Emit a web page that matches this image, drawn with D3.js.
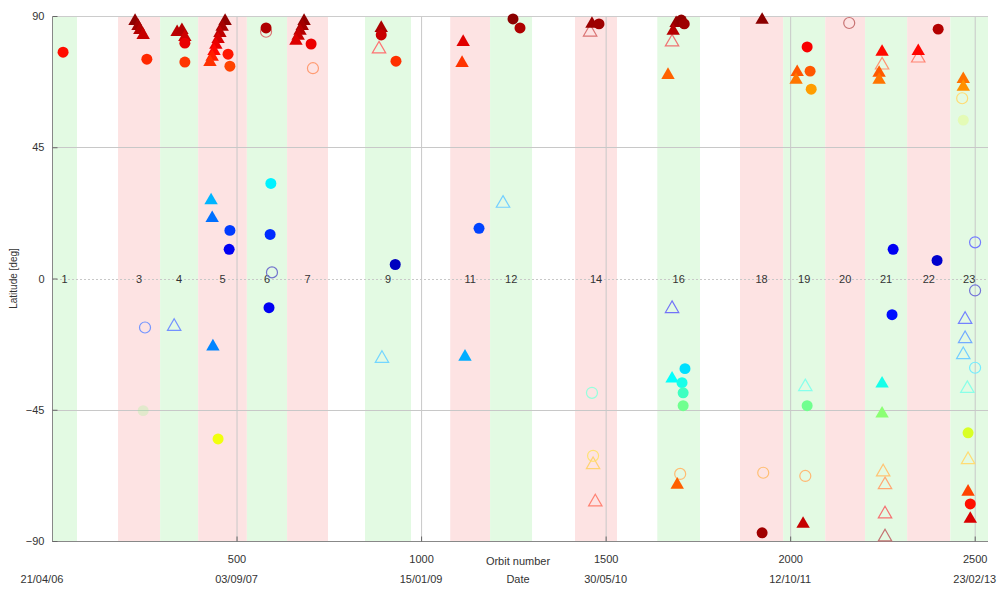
<!DOCTYPE html>
<html>
<head>
<meta charset="utf-8">
<script src="https://cdn.jsdelivr.net/npm/d3@7"></script>
<style>
  html, body { margin: 0; padding: 0; background: #fff; }
  svg { display: block; font-family: "Liberation Sans", Arial, sans-serif; }
</style>
</head>
<body>
<svg id="chart" width="1003" height="592"></svg>
<script>
// Observation seasons: [season number, first orbit, last orbit, kind]
// kind: "g" = green season, "r" = red season, "w" = no season shading
const seasons = [
  [1, 0, 68, "g"], [2, 68, 179, "w"], [3, 179, 293, "r"], [4, 293, 396, "g"],
  [5, 396, 528, "r"], [6, 528, 637, "g"], [7, 637, 748, "r"], [8, 748, 848, "w"],
  [9, 848, 973, "g"], [10, 973, 1079, "w"], [11, 1079, 1187, "r"], [12, 1187, 1301, "g"],
  [13, 1301, 1417, "w"], [14, 1417, 1531, "r"], [15, 1531, 1640, "w"], [16, 1640, 1756, "g"],
  [17, 1756, 1864, "w"], [18, 1864, 1981, "r"], [19, 1981, 2095, "g"], [20, 2095, 2203, "r"],
  [21, 2203, 2317, "g"], [22, 2317, 2434, "r"], [23, 2434, 2536, "g"]
];

// Axis ticks
const orbitTicks = [500, 1000, 1500, 2000, 2500];
const dateTicks = [[0, "21/04/06"], [500, "03/09/07"], [1000, "15/01/09"],
                   [1500, "30/05/10"], [2000, "12/10/11"], [2500, "23/02/13"]];
const latTicks = [90, 45, 0, -45, -90];

// Detections: [orbit number, latitude in degrees]
const filledCircles = [
  [30, 77.6], [257, 75.2], [360, 80.7], [360, 74.2], [477, 76.9], [482, 72.8],
  [580, 85.9], [593, 32.6], [591, 15.1], [588, -10], [482, 16.5], [480, 10],
  [450, -55], [702, 80.4], [892, 83.5], [932, 74.5], [930, 4.8], [1157, 17.2],
  [1249, 89], [1268, 85.9], [1482, 87.3], [1705, 88.6], [1713, 87.3], [1715, -30.9],
  [1707, -35.7], [1710, -39.2], [1710, -43.6], [1924, -87.2], [2046, 79.4], [2054, 71.1],
  [2057, 64.9], [2046, -43.6], [2279, 10], [2276, -12.4], [2401, 85.5], [2398, 6.2],
  [2482, -52.9], [2488, -77.3]
];
const filledTriangles = [
  [225, 88.6], [233, 86.9], [238, 85.5], [247, 83.8],
  [339, 84.8], [352, 85.5], [360, 83.1],
  [469, 88.6], [461, 86.6], [455, 84.5], [450, 82.4], [444, 80.4], [439, 78.3], [434, 76.3], [428, 74.5],
  [431, 27.1], [434, 21], [436, -23],
  [683, 88.6], [678, 86.9], [672, 85.2], [667, 83.5], [661, 81.8],
  [892, 86.2], [1114, 81.4], [1111, 74.2], [1119, -26.5], [1463, 87.6],
  [1691, 87.9], [1683, 85.2], [1669, 70.1], [1680, -34], [1694, -70.4],
  [1924, 89], [2019, 71.1], [2016, 68.4], [2035, -83.8],
  [2249, 78], [2241, 70.8], [2241, 68.4], [2249, -35.7], [2249, -46],
  [2347, 78.3], [2469, 68.7], [2469, 66], [2482, -72.8], [2488, -82.1]
];
const openCircles = [
  [580, 84.6], [596, 2.1], [252, -16.8], [707, 72.1], [1463, -39.2], [1466, -60.8],
  [1702, -67], [1927, -66.6], [2041, -67.7], [2160, 87.6], [2466, 61.8],
  [2501, 12.4], [2501, -4.1], [2501, -30.6]
];
const openTriangles = [
  [331, -16.1], [886, 79], [894, -27.1], [1222, 26.1], [1458, 84.8], [1466, -63.5],
  [1472, -76.3], [1680, 81.4], [1680, -10], [2041, -36.8], [2249, 73.5], [2252, -66],
  [2257, -70.4], [2257, -80.4], [2257, -88.3], [2347, 75.9], [2474, -13.7], [2474, -20.3],
  [2469, -25.8], [2480, -37.4], [2482, -61.8]
];
const faintMarks = [[247, -45.3], [2469, 54.3]];

const svg = d3.select("#chart");
const x = d3.scaleLinear().domain([0, 2536]).range([52, 988]);
const y = d3.scaleLinear().domain([-90, 90]).range([541, 16]);

// Jet colour map on absolute latitude
const jet = d3.scaleLinear()
  .domain([0, 0.125, 0.375, 0.625, 0.875, 1])
  .range(["#00008f", "#0000ff", "#00ffff", "#ffff00", "#ff0000", "#800000"])
  .interpolate(d3.interpolateRgb)
  .clamp(true);
const colour = lat => jet(Math.abs(lat) / 90);
const pale = lat => d3.interpolateRgb(colour(lat), "#ffffff")(0.45);

const bandFill = { g: "#e3fae3", r: "#fde3e3", w: "#ffffff" };

// Season shading
svg.append("g").selectAll("rect").data(seasons).join("rect")
  .attr("x", d => x(d[1]))
  .attr("width", d => x(d[2]) - x(d[1]))
  .attr("y", y(90))
  .attr("height", y(-90) - y(90))
  .attr("fill", d => bandFill[d[3]]);

// Grid
const grid = svg.append("g").attr("stroke", "#c8c8c8").attr("stroke-width", 1);
grid.selectAll("line.v").data(orbitTicks).join("line")
  .attr("x1", d => x(d) + 0.5).attr("x2", d => x(d) + 0.5)
  .attr("y1", y(90)).attr("y2", y(-90));
grid.selectAll("line.h").data([45, 0, -45]).join("line")
  .attr("x1", x(0)).attr("x2", x(2536))
  .attr("y1", d => Math.round(y(d)) + 0.5).attr("y2", d => Math.round(y(d)) + 0.5)
  .attr("stroke-dasharray", d => d === 0 ? "2,2" : null);

// Season numbers along the equator
svg.append("g").selectAll("text")
  .data(seasons.filter(d => d[3] !== "w")).join("text")
  .attr("x", d => x((d[1] + d[2]) / 2))
  .attr("y", y(0) + 4)
  .attr("text-anchor", "middle")
  .attr("font-size", 11)
  .attr("fill", "#333")
  .text(d => d[0]);

// Box lines
const box = svg.append("g").attr("stroke", "#888").attr("stroke-width", 1);
box.append("line").attr("x1", x(0) + 0.5).attr("x2", x(0) + 0.5).attr("y1", y(90)).attr("y2", y(-90));
box.append("line").attr("x1", x(0)).attr("x2", x(2536)).attr("y1", y(-90) + 0.5).attr("y2", y(-90) + 0.5);
box.append("line").attr("x1", x(0)).attr("x2", x(2536)).attr("y1", y(90) + 0.5).attr("y2", y(90) + 0.5).attr("stroke", "#ccc");

// Axes
const yAxis = d3.axisLeft(y).tickValues(latTicks).tickSize(-5).tickPadding(8);
const ga = svg.append("g").attr("transform", `translate(${x(0) + 0.5},0)`).call(yAxis);
ga.select(".domain").remove();
ga.selectAll("line").attr("stroke", "#666");
ga.selectAll("text").attr("font-size", 11).attr("fill", "#333")
  .attr("font-family", "Liberation Sans, Arial, sans-serif");

const xAxis = d3.axisBottom(x).tickValues(orbitTicks).tickFormat(d3.format("d"))
  .tickSize(-5).tickPadding(14);
const gx = svg.append("g").attr("transform", `translate(0,${y(-90) + 0.5})`).call(xAxis);
gx.select(".domain").remove();
gx.selectAll("line").attr("stroke", "#666");
gx.selectAll("text").attr("font-size", 11).attr("fill", "#333")
  .attr("font-family", "Liberation Sans, Arial, sans-serif");

svg.append("g").selectAll("text").data(dateTicks).join("text")
  .attr("x", d => d[0] === 0 ? x(d[0]) - 10 : x(d[0]))
  .attr("y", 583)
  .attr("text-anchor", "middle")
  .attr("font-size", 11)
  .attr("fill", "#333")
  .text(d => d[1]);

svg.append("text").attr("x", 518).attr("y", 565).attr("text-anchor", "middle")
  .attr("font-size", 11).attr("fill", "#333").text("Orbit number");
svg.append("text").attr("x", 518).attr("y", 583).attr("text-anchor", "middle")
  .attr("font-size", 11).attr("fill", "#333").text("Date");
svg.append("text")
  .attr("transform", `translate(17,${y(0)}) rotate(-90)`)
  .attr("text-anchor", "middle")
  .attr("font-size", 10).attr("fill", "#333").text("Latitude [deg]");

// Markers
const circleSym = d3.symbol().type(d3.symbolCircle).size(95);
const triSym = d3.symbol().type(d3.symbolTriangle).size(78);
const marks = svg.append("g");

marks.selectAll("path.fm").data(faintMarks).join("path")
  .attr("transform", d => `translate(${x(d[0])},${y(d[1])})`)
  .attr("d", circleSym).attr("fill", d => colour(d[1])).attr("opacity", 0.22);

marks.selectAll("path.oc").data(openCircles).join("path")
  .attr("transform", d => `translate(${x(d[0])},${y(d[1])})`)
  .attr("d", circleSym).attr("fill", "none")
  .attr("stroke", d => pale(d[1])).attr("stroke-width", 1.2);

marks.selectAll("path.ot").data(openTriangles).join("path")
  .attr("transform", d => `translate(${x(d[0])},${y(d[1]) + 1})`)
  .attr("d", triSym).attr("fill", "none")
  .attr("stroke", d => pale(d[1])).attr("stroke-width", 1.2);

marks.selectAll("path.ft").data(filledTriangles).join("path")
  .attr("transform", d => `translate(${x(d[0])},${y(d[1]) + 1})`)
  .attr("d", triSym).attr("fill", d => colour(d[1]));

marks.selectAll("path.fc").data(filledCircles).join("path")
  .attr("transform", d => `translate(${x(d[0])},${y(d[1])})`)
  .attr("d", circleSym).attr("fill", d => colour(d[1]));
</script>
</body>
</html>
